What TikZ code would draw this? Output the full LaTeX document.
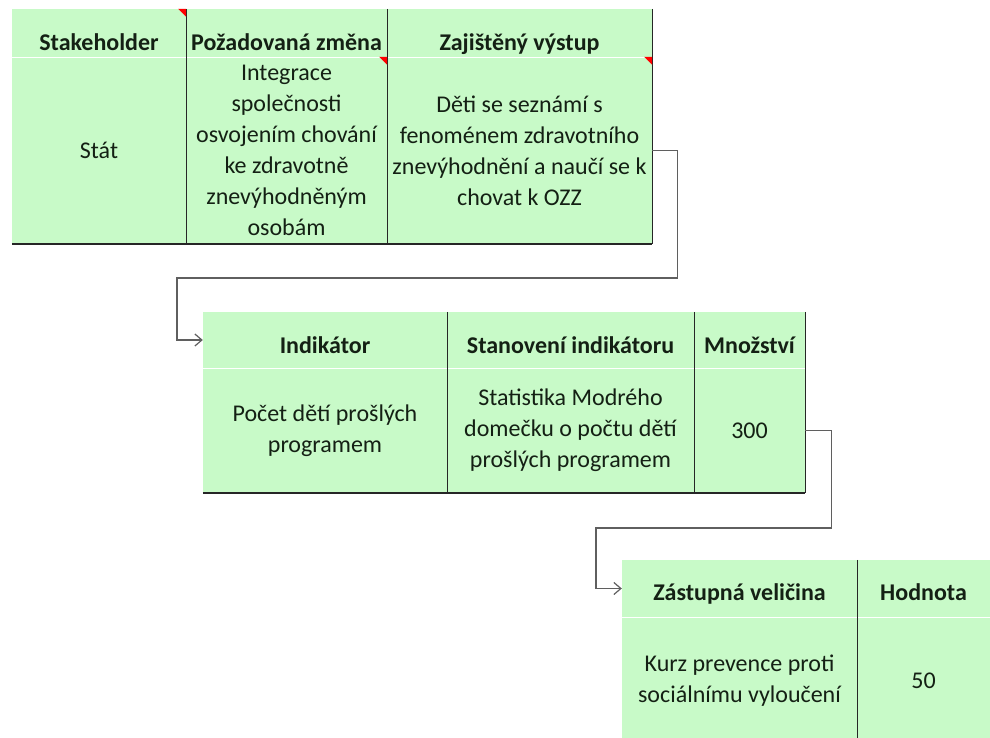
\documentclass[tikz,border=0pt]{standalone}
\usepackage{fontspec}
\setmainfont{Carlito}
\usetikzlibrary{arrows.meta}
\definecolor{cellgreen}{RGB}{200,250,200}
\definecolor{celltext}{RGB}{20,32,20}
\definecolor{connline}{RGB}{95,95,95}
\newcommand{\cellfont}{\fontsize{24}{31}\selectfont}

\begin{document}
\begin{tikzpicture}[x=1pt,y=-1pt,
    cell/.style={fill=cellgreen,inner sep=0pt,align=center,text=celltext,font=\cellfont},
    head/.style 2 args={cell,font=\cellfont\bfseries,text height=#1,text depth=#2},
    rule/.style={black!85,line width=1.3pt},
    conn/.style={connline,line width=1.2pt,-{Straight Barb[length=7pt,width=12pt]}}]
    \useasboundingbox (0,0) rectangle (990,737);
    \clip (0,0) rectangle (990,737);
    %first table
    \node[head={41}{7},minimum width=174] (stake) at (99,33) {Stakeholder};
    \node[head={41}{7},minimum width=201] (zmena) at (286.5,33) {Požadovaná změna};
    \node[head={41}{7},minimum width=265] (vystup) at (519.5,33) {Zajištěný výstup};
    \node[cell,minimum width=174,minimum height=187] (stat) at (99,150.5) {Stát};
    \node[cell,minimum width=201,minimum height=187] (integrace) at (286.5,150.5)
        {Integrace\\ společnosti\\ osvojením chování\\ ke zdravotně\\ znevýhodněným\\ osobám};
    \node[cell,minimum width=265,minimum height=187] (deti) at (519.5,150.5)
        {Děti se seznámí s\\ fenoménem zdravotního\\ znevýhodnění a naučí se k\\ chovat k OZZ};
    \draw[white,line width=.8pt] (stake.south west) -- (vystup.south east);
    \draw[rule] (stake.north east) -- (stat.south east);
    \draw[rule] (zmena.north east) -- (integrace.south east);
    \draw[rule] (vystup.north east) -- (deti.south east);
    \draw[rule,line width=2pt] (stat.south west) -- (deti.south east);
    \fill[red] (stake.north east) -- ++(-8,0) -- ++(8,8) -- cycle;
    \fill[red] (integrace.north east) -- ++(-8,0) -- ++(8,8) -- cycle;
    \fill[red] (deti.north east) -- ++(-8,0) -- ++(8,8) -- cycle;
    %second table
    \node[head={41}{15},minimum width=244] (ind) at (325,340) {Indikátor};
    \node[head={41}{15},minimum width=247] (stanov) at (570.5,340) {Stanovení indikátoru};
    \node[head={41}{15},minimum width=111] (mnoz) at (749.5,340) {Množství};
    \node[cell,minimum width=244,minimum height=125] (pocet) at (325,430.5)
        {Počet dětí prošlých\\ programem};
    \node[cell,minimum width=247,minimum height=125] (statist) at (570.5,430.5)
        {Statistika Modrého\\ domečku o počtu dětí\\ prošlých programem};
    \node[cell,minimum width=111,minimum height=125] (tristo) at (749.5,430.5) {300};
    \draw[white,line width=.8pt] (ind.south west) -- (mnoz.south east);
    \draw[rule] (ind.north east) -- (pocet.south east);
    \draw[rule] (stanov.north east) -- (statist.south east);
    \draw[rule] (mnoz.north east) -- (tristo.south east);
    \draw[rule,line width=2pt] (pocet.south west) -- (tristo.south east);
    %third table
    \node[head={40}{17},minimum width=235] (zast) at (739.5,588.5) {Zástupná veličina};
    \node[head={40}{17},minimum width=133] (hodn) at (923.5,588.5) {Hodnota};
    \node[cell,minimum width=235,minimum height=128] (kurz) at (739.5,681)
        {Kurz prevence proti\\ sociálnímu vyloučení};
    \node[cell,minimum width=133,minimum height=128] (padesat) at (923.5,681) {50};
    \draw[white,line width=.8pt] (zast.south west) -- (hodn.south east);
    \draw[rule] (zast.north east) -- (kurz.south east);
    %connectors
    \coordinate (k1) at (177,278);
    \coordinate (k2) at (596,528);
    \draw[conn] (deti.east) -- ++(25,0) |- (k1) |- (ind.west);
    \draw[conn] (tristo.east) -- ++(26,0) |- (k2) |- (zast.west);
\end{tikzpicture}
\end{document}
